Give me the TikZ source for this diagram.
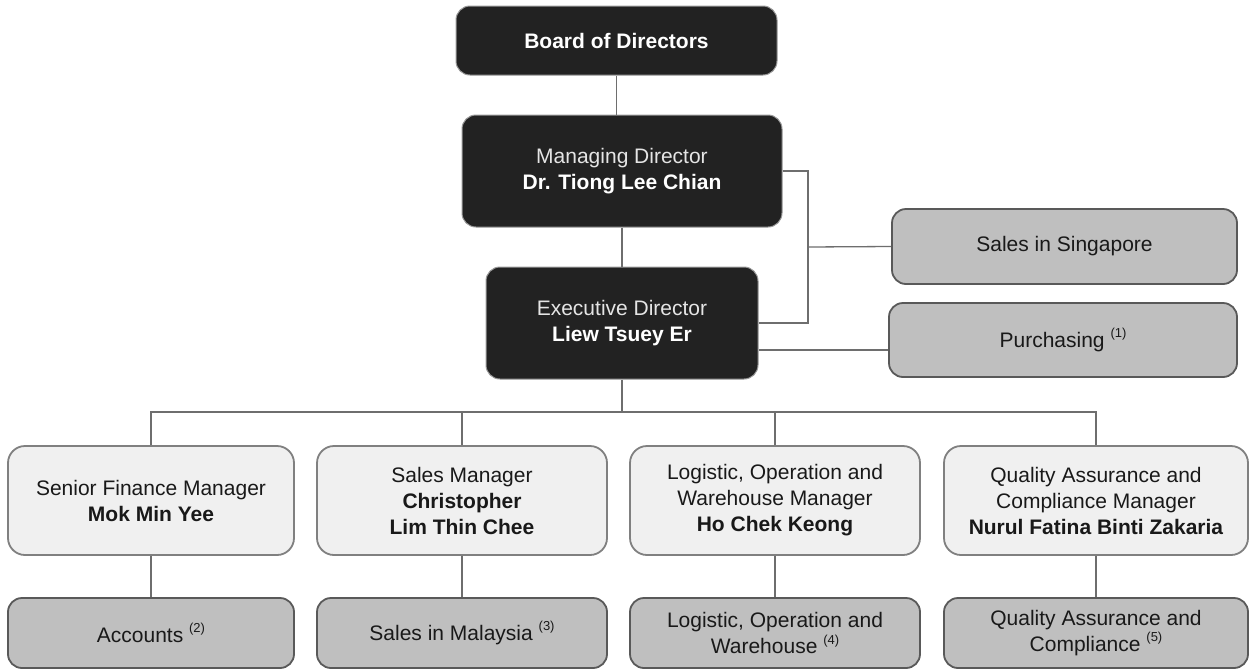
\documentclass[tikz,border=0pt]{standalone}
\usepackage{fontspec}
\setmainfont{Liberation Sans}
\usetikzlibrary{calc}
\definecolor{boxdark}{HTML}{222222}
\definecolor{boxlight}{HTML}{F0F0F0}
\definecolor{boxmid}{HTML}{BFBFBF}
\definecolor{linegrey}{HTML}{6E6E6E}
\def\fnref#1{\ \raisebox{0.45em}{\fontsize{13}{13}\selectfont(#1)}}
\tikzset{
	orgtext/.style={align=center, inner sep=0pt, font=\fontsize{21}{26}\selectfont},
	darkbox/.style={orgtext, draw=black!40, line width=1pt, fill=boxdark, text=black!10, rounded corners=14pt},
	mgrbox/.style={orgtext, draw=black!50, line width=1.8pt, fill=boxlight, text=black!90, rounded corners=17pt},
	deptbox/.style={orgtext, draw=black!65, line width=1.8pt, fill=boxmid, text=black!90, rounded corners=14pt},
	link/.style={draw=linegrey, line width=1.3pt}
}

\begin{document}
\begin{tikzpicture}[x=1pt, y=-1pt]
			%%%%% START %%%%%
			\useasboundingbox[fill=white] (0, 0) rectangle (1251, 670);
			
			\node[darkbox, minimum width=321, minimum height=69] (board) at (616.5, 40.5) {\textbf{\color{white}Board of Directors}};
			\node[darkbox, minimum width=320, minimum height=112] (md) at (622, 171) {Managing Director\\\textbf{\color{white}Dr. Tiong Lee Chian}};
			\node[darkbox, minimum width=272, minimum height=112] (ed) at (622, 323) {Executive Director\\\textbf{\color{white}Liew Tsuey Er}};
			
			\node[deptbox, minimum width=345, minimum height=75] (sing) at (1064.5, 246.5) {Sales in Singapore};
			\node[deptbox, minimum width=348, minimum height=74] (purch) at (1063, 340) {Purchasing\fnref{1}};
			
			\node[mgrbox, minimum width=286, minimum height=109] (sf) at (151, 500.5) {Senior Finance Manager\\\textbf{Mok Min Yee}};
			\node[mgrbox, minimum width=290, minimum height=109] (sm) at (462, 500.5) {Sales Manager\\\textbf{Christopher}\\\textbf{Lim Thin Chee}};
			\node[mgrbox, minimum width=290, minimum height=109] (lm) at (775, 500.5) {Logistic, Operation and\\Warehouse Manager\\\textbf{Ho Chek Keong}};
			\node[mgrbox, minimum width=304, minimum height=109] (qa) at (1096, 500.5) {Quality Assurance and\\Compliance Manager\\\textbf{Nurul Fatina Binti Zakaria}};
			
			\node[deptbox, minimum width=286, minimum height=70] (acc) at (151, 633) {Accounts\fnref{2}};
			\node[deptbox, minimum width=290, minimum height=70] (smy) at (462, 633) {Sales in Malaysia\fnref{3}};
			\node[deptbox, minimum width=290, minimum height=70] (low) at (775, 633) {Logistic, Operation and\\Warehouse\fnref{4}};
			\node[deptbox, minimum width=304, minimum height=70] (qac) at (1096, 633) {Quality Assurance and\\Compliance\fnref{5}};
			
			% top line
			\draw[link] (board.south) -- (board.south |- md.north);
			\draw[link] (md.south) -- (md.south |- ed.north);
			
			% side bracket
			\coordinate (brk) at (808, 247);
			\draw[link] (md.east) -| (brk) |- (ed.east);
			\draw[link] (brk) -- (sing.west);
			\draw[link] ([yshift=-10pt]purch.west) -- ([yshift=-10pt]purch.west -| ed.east);
			
			% bus to managers
			\coordinate (bus) at (0, 412);
			\draw[link] (ed.south) -- (ed.south |- bus);
			\draw[link] (sf.north) -- (sf.north |- bus) -- (qa.north |- bus) -- (qa.north);
			\draw[link] (sm.north) -- (sm.north |- bus);
			\draw[link] (lm.north) -- (lm.north |- bus);
			
			\draw[link] (sf) -- (acc);
			\draw[link] (sm) -- (smy);
			\draw[link] (lm) -- (low);
			\draw[link] (qa) -- (qac);
			%%%%% END %%%%%
\end{tikzpicture}
\end{document}
